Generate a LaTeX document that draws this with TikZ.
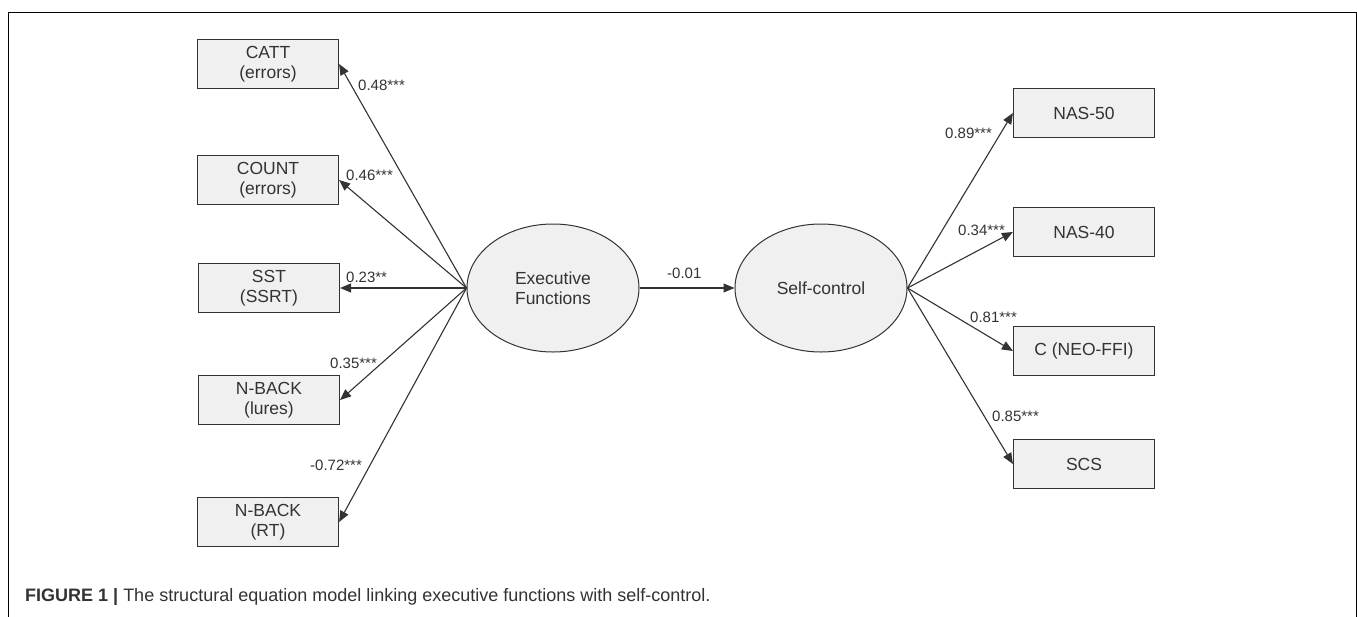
\documentclass[tikz,border=0pt]{standalone}
\usepackage{fontspec}
\setmainfont{Liberation Sans}
\usetikzlibrary{shapes.geometric,arrows.meta}
\definecolor{boxfill}{HTML}{F0F0F0}
\definecolor{ink}{HTML}{333333}
\begin{document}
\begin{tikzpicture}[x=1pt,y=-1pt,
  obs/.style={draw=ink,fill=boxfill,line width=1.2pt,minimum width=141pt,minimum height=49pt,inner sep=0pt,align=center,font=\fontsize{17.5}{20.5}\selectfont,text=ink},
  lat/.style={ellipse,draw=ink,fill=boxfill,line width=1pt,minimum width=172pt,minimum height=128pt,inner sep=0pt,align=center,font=\fontsize{17.5}{20.5}\selectfont,text=ink},
  path/.style={draw=ink,line width=1.1pt,-{Triangle[length=11pt,width=9pt]}},
  lbl/.style={anchor=west,inner sep=0pt,font=\fontsize{15}{17}\selectfont,text=ink}]
\useasboundingbox (0,0) rectangle (1357,616);
\fill[white] (0,0) rectangle (1357,616);
\draw[line width=1pt] (8,620) -- (8,12) -- (1356,12) -- (1356,620);
% latent variables
\node[lat] (ef) at (553,288) {Executive\\Functions};
\node[lat] (sc) at (821,288) {Self-control};
% indicators left
\node[obs] (catt) at (268,64) {CATT\\(errors)};
\node[obs] (count) at (268,180) {COUNT\\(errors)};
\node[obs] (sst) at (269,288) {SST\\(SSRT)};
\node[obs] (lures) at (269,400) {N-BACK\\(lures)};
\node[obs] (rt) at (268,522) {N-BACK\\(RT)};
% indicators right
\node[obs] (nas50) at (1084,113) {NAS-50};
\node[obs] (nas40) at (1084,232) {NAS-40};
\node[obs] (neo) at (1084,351) {C (NEO-FFI)};
\node[obs] (scs) at (1084,464) {SCS};
% paths
\draw[path] (ef.west) -- (catt.east);
\draw[path] (ef.west) -- (count.east);
\draw[path] (ef.west) -- (sst.east);
\draw[path] (ef.west) -- (lures.east);
\draw[path] (ef.west) -- (rt.east);
\draw[path] (ef.east) -- (sc.west);
\draw[path] (sc.east) -- (nas50.west);
\draw[path] (sc.east) -- (nas40.west);
\draw[path] (sc.east) -- (neo.west);
\draw[path] (sc.east) -- (scs.west);
% labels
\node[lbl] (l1) at (358,85) {0.48***};
\node[lbl] (l2) at (346,175) {0.46***};
\node[lbl] (l3) at (346,277) {0.23**};
\node[lbl] (l4) at (330,363) {0.35***};
\node[lbl] (l5) at (310,465) {-0.72***};
\node[lbl] (l6) at (667,273) {-0.01};
\node[lbl] (r1) at (945,133) {0.89***};
\node[lbl] (r2) at (958,230) {0.34***};
\node[lbl] (r3) at (970,317) {0.81***};
\node[lbl] (r4) at (992,416) {0.85***};
% caption
\node[anchor=west,inner sep=0pt,font=\fontsize{18}{20}\selectfont,text=ink] (cap) at (25,597) {\textbf{FIGURE 1 |} The structural equation model linking executive functions with self-control.};
\end{tikzpicture}
\end{document}
